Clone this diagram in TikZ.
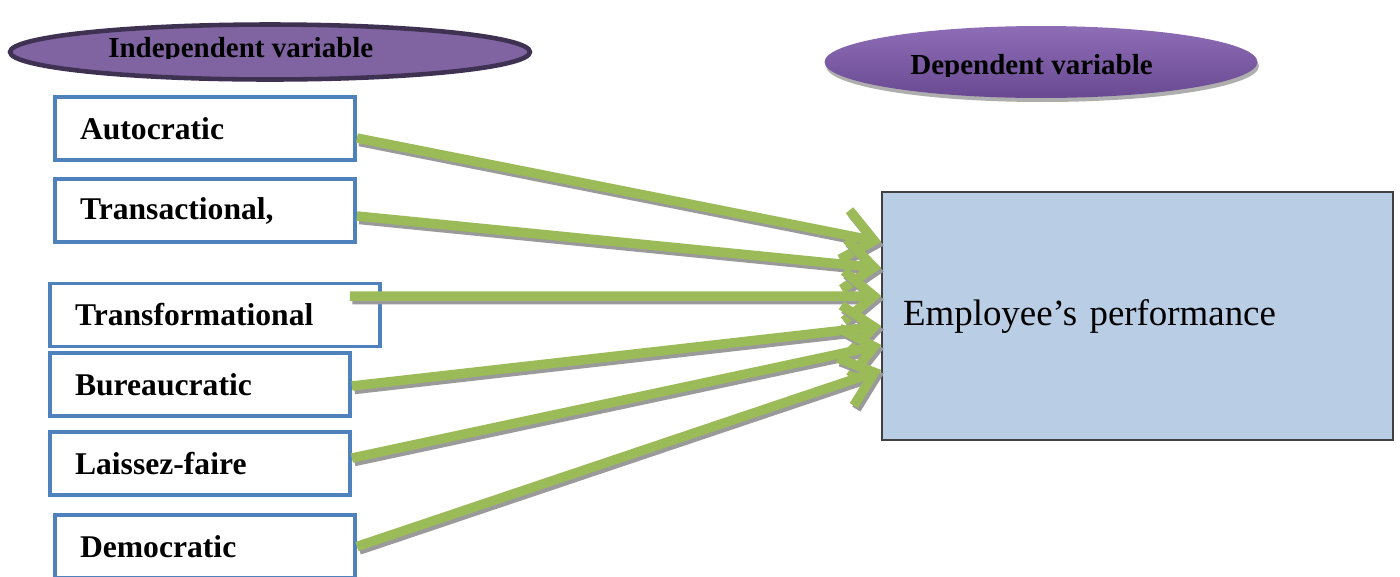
\documentclass[tikz,border=0pt]{standalone}
\usepackage{fontspec}
\setmainfont{Liberation Serif}
\usetikzlibrary{arrows.meta}
\usetikzlibrary{positioning}
\usetikzlibrary{shapes.geometric,shadows}
\definecolor{boxblue}{HTML}{4F81BD}
\definecolor{arrowgreen}{HTML}{9BBB59}
\definecolor{shadowgray}{HTML}{9A9A9A}
\definecolor{perffill}{HTML}{B9CDE5}
\definecolor{perfedge}{HTML}{404040}
\definecolor{ovalfill}{HTML}{8064A2}
\definecolor{ovaledge}{HTML}{3F3151}
\definecolor{ovaltop}{HTML}{8E6DB6}
\definecolor{ovalbottom}{HTML}{694A92}

\tikzset{
  lbox/.style={draw=boxblue, line width=2.2pt, fill=white, minimum height=1.26cm,
    text width=5cm, inner xsep=0.5cm, align=left,
    font=\fontsize{18}{20}\selectfont\bfseries},
  ovaltext/.style={font=\fontsize{16.5}{18}\selectfont\bfseries, inner sep=0pt, anchor=base west},
  garrow/.style={draw=arrowgreen, line width=5.4pt,
    -{Straight Barb[length=0.6cm,width=1.0cm]}},
  gshadow/.style={garrow, draw=shadowgray, transform canvas={shift={(0.05cm,-0.07cm)}}}
}

\begin{document}
\begin{tikzpicture}[x=0.02cm,y=-0.02cm]
    \useasboundingbox (0,0) rectangle (1400,576);

    \node (indep) [ellipse, draw=ovaledge, line width=2.6pt, fill=ovalfill,
      minimum width=10.4cm, minimum height=1.1cm] at (270,52) {};
    \begin{scope}
      \clip (100,25) rectangle (400,58);
      \node (indeptext) [ovaltext] at (108,57) {Independent variable};
    \end{scope}

    \node (dep) [ellipse, top color=ovaltop, bottom color=ovalbottom,
      drop shadow={shadow xshift=0.03cm, shadow yshift=-0.08cm, fill=shadowgray, opacity=0.8},
      minimum width=8.66cm, minimum height=1.44cm] at (1041,62) {};
    \begin{scope}
      \clip (900,40) rectangle (1170,76);
      \node (deptext) [ovaltext] at (910,74) {Dependent variable};
    \end{scope}

    \node (auto) [lbox] at (205,128.5) {Autocratic};
    \node (trans) [lbox] at (205,210.5) {Transactional,};
    \node (transf) [lbox, text width=5.6cm] at (215,315) {Transformational};
    \node (bureau) [lbox] at (200,384.5) {Bureaucratic};
    \node (laissez) [lbox] at (200,463.5) {Laissez-faire};
    \node (demo) [lbox] at (205,546.5) {Democratic};

    \node (perf) [draw=perfedge, line width=0.8pt, fill=perffill, minimum height=4.96cm,
      text width=9.38cm, inner xsep=0.42cm, align=left,
      font=\fontsize{21}{24}\selectfont] at (1137.5,316) {Employee’s performance};

    \path ([yshift=-0.19cm]auto.east) edge[gshadow] ([yshift=1.48cm]perf.west)
      edge[garrow] ([yshift=1.48cm]perf.west);
    \path ([yshift=-0.11cm]trans.east) edge[gshadow] ([yshift=0.96cm]perf.west)
      edge[garrow] ([yshift=0.96cm]perf.west);
    \path ([xshift=-0.64cm,yshift=0.38cm]transf.east) edge[gshadow] ([yshift=0.4cm]perf.west)
      edge[garrow] ([yshift=0.4cm]perf.west);
    \path ([yshift=-0.03cm]bureau.east) edge[gshadow] ([yshift=-0.2cm]perf.west)
      edge[garrow] ([yshift=-0.2cm]perf.west);
    \path ([yshift=0.11cm]laissez.east) edge[gshadow] ([yshift=-0.58cm]perf.west)
      edge[garrow] ([yshift=-0.58cm]perf.west);
    \path (demo.east) edge[gshadow] ([yshift=-1.08cm]perf.west)
      edge[garrow] ([yshift=-1.08cm]perf.west);
\end{tikzpicture}
\end{document}
